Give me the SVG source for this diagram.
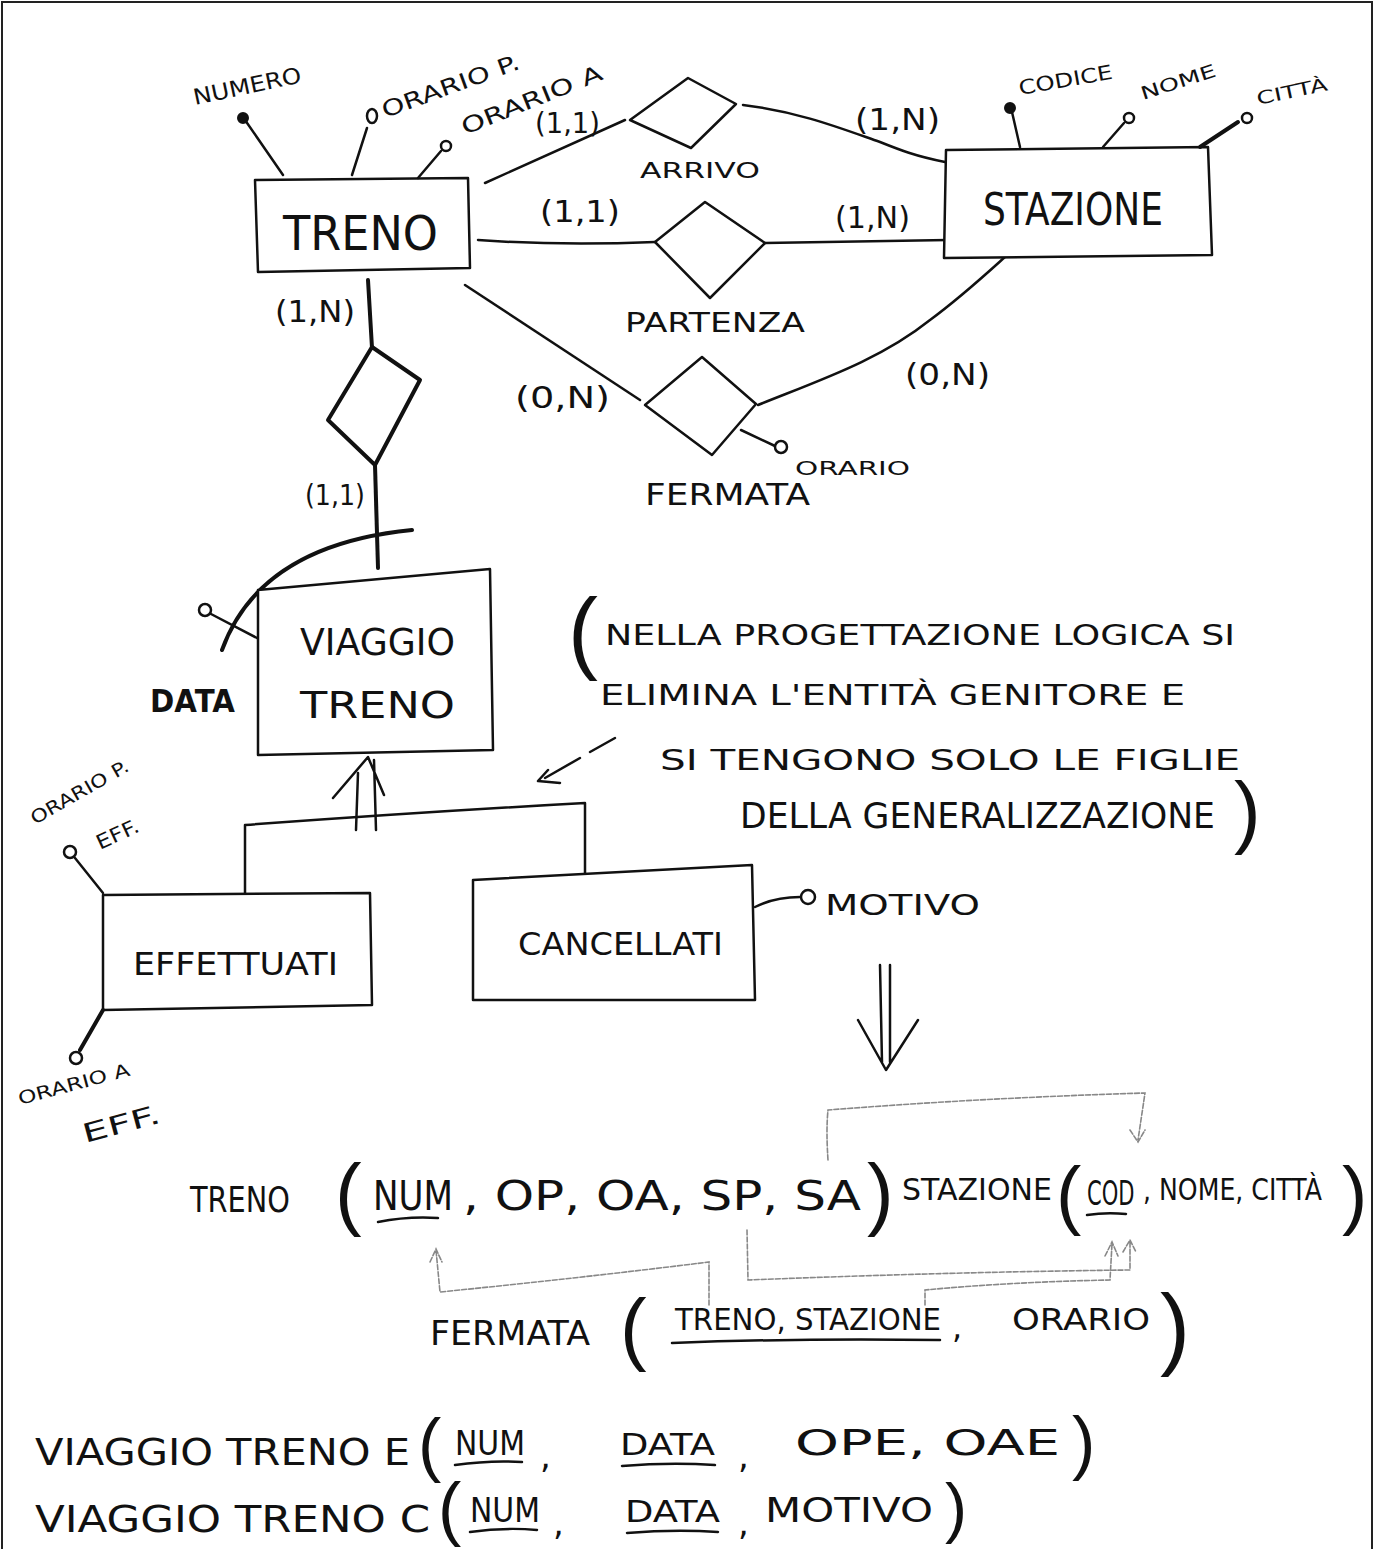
<svg xmlns="http://www.w3.org/2000/svg" width="1381" height="1549" viewBox="0 0 1381 1549">
<style>
.ln{fill:none;stroke:#111;stroke-width:2.5;stroke-linecap:round;stroke-linejoin:round}
.thk{fill:none;stroke:#111;stroke-width:4;stroke-linecap:round;stroke-linejoin:round}
.fk{fill:none;stroke:#888;stroke-width:1.6;stroke-dasharray:5 2;stroke-linecap:round}
.box{fill:#fff;stroke:#111;stroke-width:2.5;stroke-linejoin:round}
.dia{fill:#fff;stroke:#111;stroke-width:2.5;stroke-linejoin:round}
.oc{fill:#fff;stroke:#111;stroke-width:2.5}
.fc{fill:#111;stroke:#111;stroke-width:2}
text{font-family:"DejaVu Sans","Liberation Sans",sans-serif;fill:#111}
.t{font-size:22px}
.c{font-size:30px}
.big{font-size:44px}
.n{font-size:28px}
.r{font-size:36px}
.par{font-family:"Liberation Sans",sans-serif;font-weight:100}
</style>
<rect x="2" y="2" width="1370" height="1552" fill="#fff" stroke="#222" stroke-width="2"/>

<g id="connectors">
  <path class="ln" d="M485 183 L625 120"/>
  <path class="ln" d="M743 105 C800 112 840 128 880 142 C900 150 915 156 945 162"/>
  <path class="ln" d="M478 240 Q560 246 655 242"/>
  <path class="ln" d="M765 243 L948 240"/>
  <path class="ln" d="M465 285 L640 400"/>
  <path class="ln" d="M758 405 C820 380 880 360 930 320 C960 298 985 275 1005 257"/>
  <path class="thk" d="M368 280 Q370 315 372 348"/>
  <path class="thk" d="M375 465 L378 568"/>
  <path class="thk" d="M222 650 Q260 545 412 530"/>
  <path class="ln" d="M245 893 L245 825 Q420 812 585 803 L585 878"/>
  <path class="ln" d="M356 830 L358 773 M376 830 L374 760 M333 798 L368 757 L384 795"/>
  <path class="ln" d="M615 738 L590 752 M580 758 L545 778 M548 770 L538 781 L560 783"/>
  <path class="ln" d="M880 965 L882 1062 M890 965 L890 1062 M858 1020 L886 1070 L918 1020"/>
  <path class="fk" d="M828 1160 Q826 1130 828 1110 Q980 1098 1145 1093 L1138 1140 M1130 1130 L1138 1142 L1145 1130"/>
  <path class="fk" d="M747 1230 L748 1280 Q950 1272 1130 1270 L1130 1242 M1123 1252 L1130 1240 L1136 1252"/>
  <path class="fk" d="M709 1305 L709 1262 Q580 1278 440 1292 L436 1250 M430 1262 L436 1249 L442 1262"/>
  <path class="fk" d="M925 1305 L925 1290 Q1010 1282 1110 1280 L1112 1244 M1105 1256 L1112 1242 L1118 1256"/>
</g>

<g id="treno">
  <path class="box" d="M255 180 L468 178 L470 268 L258 272 Z"/>
  <text x="283" y="250" font-size="48" textLength="155" lengthAdjust="spacingAndGlyphs">TRENO</text>
</g>
<g id="treno-numero">
  <path class="ln" d="M245 120 L283 175"/>
  <circle class="fc" cx="243" cy="118" r="5"/>
  <text class="t" x="195" y="105" textLength="110" lengthAdjust="spacingAndGlyphs" transform="rotate(-12 195 105)">NUMERO</text>
</g>
<g id="treno-orariop">
  <path class="ln" d="M367 128 L352 175"/>
  <ellipse class="oc" cx="372" cy="116" rx="5" ry="7"/>
  <text class="t" x="385" y="118" textLength="145" lengthAdjust="spacingAndGlyphs" transform="rotate(-20 385 118)">ORARIO P.</text>
</g>
<g id="treno-orarioa">
  <path class="ln" d="M441 151 L418 178"/>
  <circle class="oc" cx="446" cy="146" r="5"/>
  <text class="t" x="465" y="135" textLength="150" lengthAdjust="spacingAndGlyphs" transform="rotate(-22 465 135)">ORARIO A</text>
</g>

<g id="arrivo">
  <path class="dia" d="M630 120 L688 78 L736 104 L691 148 Z"/>
  <text class="t" x="640" y="178" textLength="120" lengthAdjust="spacingAndGlyphs">ARRIVO</text>
  <text class="n" x="535" y="133" textLength="65" lengthAdjust="spacingAndGlyphs">(1,1)</text>
  <text class="c" x="855" y="130" textLength="85" lengthAdjust="spacingAndGlyphs">(1,N)</text>
</g>

<g id="partenza">
  <path class="dia" d="M655 242 L705 202 L765 243 L710 298 Z"/>
  <text x="625" y="332" font-size="26" textLength="180" lengthAdjust="spacingAndGlyphs">PARTENZA</text>
  <text class="c" x="540" y="222" textLength="80" lengthAdjust="spacingAndGlyphs">(1,1)</text>
  <text class="c" x="835" y="228" textLength="75" lengthAdjust="spacingAndGlyphs">(1,N)</text>
</g>

<g id="stazione">
  <path class="box" d="M946 150 L1208 147 L1212 255 L944 258 Z"/>
  <text x="983" y="225" class="big" textLength="180" lengthAdjust="spacingAndGlyphs">STAZIONE</text>
</g>
<g id="stazione-codice">
  <path class="ln" d="M1012 112 L1020 147"/>
  <circle class="fc" cx="1010" cy="108" r="5"/>
  <text x="1020" y="95" font-size="20" textLength="95" lengthAdjust="spacingAndGlyphs" transform="rotate(-10 1020 95)">CODICE</text>
</g>
<g id="stazione-nome">
  <path class="ln" d="M1103 147 L1124 123"/>
  <circle class="oc" cx="1129" cy="118" r="5"/>
  <text x="1143" y="100" font-size="18" textLength="78" lengthAdjust="spacingAndGlyphs" transform="rotate(-18 1143 100)">NOME</text>
</g>
<g id="stazione-citta">
  <path class="thk" d="M1200 147 L1238 122"/>
  <circle class="oc" cx="1247" cy="118" r="5"/>
  <text x="1258" y="105" font-size="18" textLength="72" lengthAdjust="spacingAndGlyphs" transform="rotate(-12 1258 105)">CITTÀ</text>
</g>

<g id="fermata">
  <path class="dia" d="M645 405 L702 357 L756 404 L712 455 Z"/>
  <text class="c" x="645" y="505" textLength="165" lengthAdjust="spacingAndGlyphs">FERMATA</text>
  <text class="c" x="515" y="408" textLength="95" lengthAdjust="spacingAndGlyphs">(0,N)</text>
  <text class="c" x="905" y="385" textLength="85" lengthAdjust="spacingAndGlyphs">(0,N)</text>
</g>
<g id="fermata-orario">
  <path class="ln" d="M741 430 L775 446"/>
  <circle class="oc" cx="781" cy="447" r="6"/>
  <text x="795" y="475" font-size="20" textLength="115" lengthAdjust="spacingAndGlyphs">ORARIO</text>
</g>

<g id="rel-viaggio">
  <path class="thk" d="M372 347 L420 380 L375 465 L328 420 Z" fill="#fff"/>
  <text class="c" x="275" y="322" textLength="80" lengthAdjust="spacingAndGlyphs">(1,N)</text>
  <text class="n" x="305" y="505" textLength="60" lengthAdjust="spacingAndGlyphs">(1,1)</text>
</g>

<g id="viaggio-treno">
  <path class="box" d="M258 590 L490 569 L493 750 L258 755 Z"/>
  <text x="300" y="655" font-size="38" textLength="155" lengthAdjust="spacingAndGlyphs">VIAGGIO</text>
  <text x="300" y="718" font-size="38" textLength="155" lengthAdjust="spacingAndGlyphs">TRENO</text>
</g>
<g id="viaggio-data">
  <path class="ln" d="M211 614 L257 638"/>
  <circle class="oc" cx="205" cy="610" r="6"/>
  <text x="150" y="712" font-size="32" font-weight="bold" textLength="85" lengthAdjust="spacingAndGlyphs">DATA</text>
</g>

<g id="effettuati">
  <path class="box" d="M103 895 L370 893 L372 1005 L103 1010 Z"/>
  <text x="133" y="975" font-size="32" textLength="205" lengthAdjust="spacingAndGlyphs">EFFETTUATI</text>
</g>
<g id="effettuati-orariop">
  <path class="ln" d="M75 858 L103 893"/>
  <circle class="oc" cx="70" cy="852" r="6"/>
  <text x="35" y="825" font-size="18" textLength="110" lengthAdjust="spacingAndGlyphs" transform="rotate(-30 35 825)">ORARIO P.</text>
  <text x="100" y="850" font-size="20" textLength="45" lengthAdjust="spacingAndGlyphs" transform="rotate(-25 100 850)">EFF.</text>
</g>
<g id="effettuati-orarioa">
  <path class="thk" d="M103 1010 L80 1050"/>
  <circle class="oc" cx="76" cy="1058" r="6"/>
  <text x="20" y="1105" font-size="18" textLength="115" lengthAdjust="spacingAndGlyphs" transform="rotate(-15 20 1105)">ORARIO A</text>
  <text x="85" y="1143" font-size="26" textLength="80" lengthAdjust="spacingAndGlyphs" transform="rotate(-15 85 1143)">EFF.</text>
</g>

<g id="cancellati">
  <path class="box" d="M473 880 L752 865 L755 1000 L473 1000 Z"/>
  <text x="518" y="955" font-size="32" textLength="205" lengthAdjust="spacingAndGlyphs">CANCELLATI</text>
</g>
<g id="cancellati-motivo">
  <path class="ln" d="M755 907 Q775 897 800 897"/>
  <circle class="oc" cx="808" cy="897" r="7"/>
  <text x="825" y="915" font-size="28" textLength="155" lengthAdjust="spacingAndGlyphs">MOTIVO</text>
</g>

<g id="note">
  <text x="568" y="662" font-size="90" class="par">(</text>
  <text class="n" x="605" y="645" textLength="630" lengthAdjust="spacingAndGlyphs">NELLA  PROGETTAZIONE  LOGICA  SI</text>
  <text class="n" x="600" y="705" textLength="585" lengthAdjust="spacingAndGlyphs">ELIMINA  L'ENTITÀ  GENITORE  E</text>
  <text class="n" x="660" y="770" textLength="580" lengthAdjust="spacingAndGlyphs">SI  TENGONO  SOLO  LE  FIGLIE</text>
  <text x="740" y="828" font-size="36" textLength="475" lengthAdjust="spacingAndGlyphs">DELLA  GENERALIZZAZIONE</text>
  <text x="1234" y="838" font-size="80" class="par">)</text>
</g>

<g id="schema">
  <text class="r" x="190" y="1212" textLength="100" lengthAdjust="spacingAndGlyphs">TRENO</text>
  <text x="335" y="1220" font-size="80" class="par">(</text>
  <text x="373" y="1210" font-size="40" textLength="80" lengthAdjust="spacingAndGlyphs">NUM</text>
  <path class="ln" d="M378 1222 Q408 1216 438 1218"/>
  <text x="463" y="1210" font-size="40" textLength="398" lengthAdjust="spacingAndGlyphs">, OP, OA, SP, SA</text>
  <text x="867" y="1220" font-size="80" class="par">)</text>
  <text x="902" y="1200" font-size="30" textLength="150" lengthAdjust="spacingAndGlyphs">STAZIONE</text>
  <text x="1056" y="1220" font-size="76" class="par">(</text>
  <text font-size="34" transform="translate(1087 1205) scale(0.62 1)">COD</text>
  <path class="ln" d="M1087 1215 Q1106 1212 1126 1214"/>
  <text font-size="30" transform="translate(1143 1200) scale(0.84 1)">, NOME, CITTÀ</text>
  <text x="1342" y="1220" font-size="76" class="par">)</text>

  <text x="430" y="1345" font-size="34" textLength="160" lengthAdjust="spacingAndGlyphs">FERMATA</text>
  <text x="620" y="1355" font-size="80" class="par">(</text>
  <text x="675" y="1330" font-size="30" textLength="266" lengthAdjust="spacingAndGlyphs">TRENO, STAZIONE</text>
  <path class="ln" d="M672 1343 Q800 1338 940 1340"/>
  <text x="952" y="1338" font-size="32">,</text>
  <text x="1012" y="1330" font-size="30" textLength="138" lengthAdjust="spacingAndGlyphs">ORARIO</text>
  <text x="1160" y="1358" font-size="90" class="par">)</text>

  <text x="35" y="1465" font-size="38" textLength="375" lengthAdjust="spacingAndGlyphs">VIAGGIO TRENO E</text>
  <text x="418" y="1468" font-size="70" class="par">(</text>
  <text x="455" y="1455" font-size="34" textLength="70" lengthAdjust="spacingAndGlyphs">NUM</text>
  <path class="ln" d="M455 1465 Q490 1460 522 1462"/>
  <text x="540" y="1468" font-size="34">,</text>
  <text x="620" y="1455" font-size="30" textLength="95" lengthAdjust="spacingAndGlyphs">DATA</text>
  <path class="ln" d="M622 1466 Q670 1462 715 1465"/>
  <text x="738" y="1468" font-size="34">,</text>
  <text x="795" y="1455" font-size="36" textLength="265" lengthAdjust="spacingAndGlyphs">OPE,  OAE</text>
  <text x="1072" y="1466" font-size="70" class="par">)</text>

  <text x="35" y="1532" font-size="38" textLength="395" lengthAdjust="spacingAndGlyphs">VIAGGIO TRENO C</text>
  <text x="438" y="1532" font-size="70" class="par">(</text>
  <text x="470" y="1522" font-size="34" textLength="70" lengthAdjust="spacingAndGlyphs">NUM</text>
  <path class="ln" d="M470 1532 Q505 1527 537 1530"/>
  <text x="553" y="1535" font-size="34">,</text>
  <text x="625" y="1522" font-size="30" textLength="95" lengthAdjust="spacingAndGlyphs">DATA</text>
  <path class="ln" d="M627 1533 Q675 1529 718 1532"/>
  <text x="738" y="1535" font-size="34">,</text>
  <text x="765" y="1522" font-size="34" textLength="168" lengthAdjust="spacingAndGlyphs">MOTIVO</text>
  <text x="945" y="1530" font-size="66" class="par">)</text>
</g>
</svg>
